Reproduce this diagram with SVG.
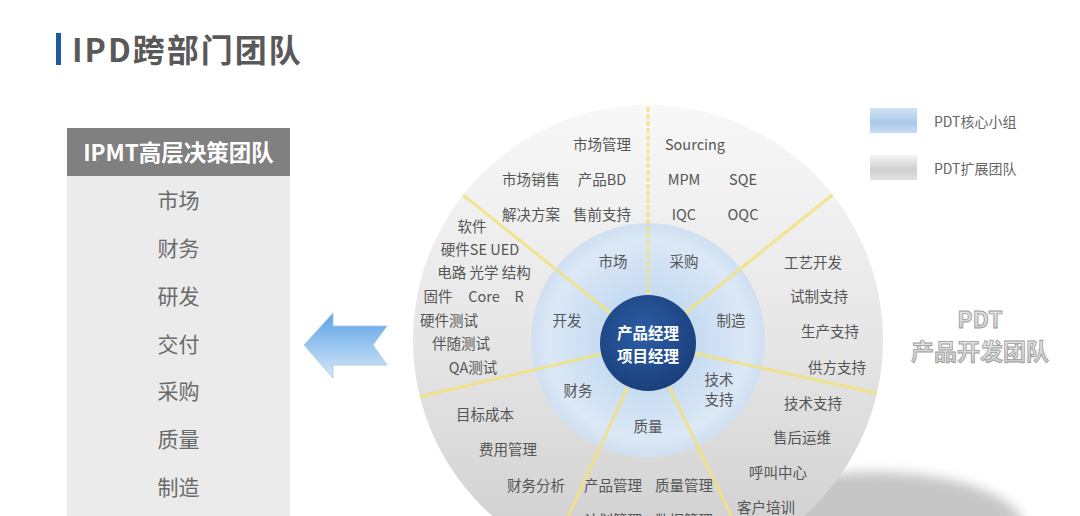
<svg xmlns="http://www.w3.org/2000/svg" width="1080" height="516" viewBox="0 0 1080 516">
<defs>
<style>
text{font-family:"Noto Sans CJK SC","Noto Sans",sans-serif;}
.c{font-size:14.5px;fill:#555;text-anchor:middle;}
.lp{font-size:21px;fill:#6a6a6a;text-anchor:middle;}
.lg{font-size:14px;fill:#666;}
.ray{stroke:#f2e27c;stroke-width:3;opacity:0.85;fill:none;}
.pdt{font-size:23px;font-weight:bold;fill:url(#gPdt);stroke:#9a9a9a;stroke-width:0.8;text-anchor:middle;}
</style>
<linearGradient id="gDisc" x1="0" y1="0" x2="0" y2="1">
<stop offset="0" stop-color="#f8f8f8"/>
<stop offset="0.5" stop-color="#e6e6e6"/>
<stop offset="1" stop-color="#cdcdcd"/>
</linearGradient>
<radialGradient id="gInner" cx="0.5" cy="0.5" r="0.5">
<stop offset="0" stop-color="#b3cfec"/>
<stop offset="0.85" stop-color="#dbe8f6"/>
<stop offset="1" stop-color="#cfe0f2"/>
</radialGradient>
<radialGradient id="gCore" cx="0.45" cy="0.4" r="0.6">
<stop offset="0" stop-color="#2c5fa6"/>
<stop offset="1" stop-color="#1b3f7c"/>
</radialGradient>
<linearGradient id="gArrow" x1="0" y1="0" x2="0" y2="1">
<stop offset="0" stop-color="#5aa3e6"/>
<stop offset="1" stop-color="#d6e8f8"/>
</linearGradient>
<linearGradient id="gLeg1" x1="0" y1="0" x2="0" y2="1">
<stop offset="0" stop-color="#d3e3f4"/>
<stop offset="0.6" stop-color="#a9c9ec"/>
<stop offset="1" stop-color="#c9dcf1"/>
</linearGradient>
<linearGradient id="gLeg2" x1="0" y1="0" x2="0" y2="1">
<stop offset="0" stop-color="#f4f4f4"/>
<stop offset="0.6" stop-color="#cfcfcf"/>
<stop offset="1" stop-color="#e2e2e2"/>
</linearGradient>
<linearGradient id="gPdt" x1="0" y1="0" x2="0" y2="1">
<stop offset="0" stop-color="#f2f2f2"/>
<stop offset="1" stop-color="#c4c4c4"/>
</linearGradient>
<clipPath id="discClip"><circle cx="648" cy="340" r="235"/></clipPath>
<filter id="blur" x="-30%" y="-30%" width="160%" height="160%"><feGaussianBlur stdDeviation="6"/></filter>
</defs>
<rect width="1080" height="516" fill="#ffffff"/>

<g id="title">
<rect x="56" y="33" width="5" height="32" fill="#1f5c9e"/>
<text x="72" y="62" font-size="32" font-weight="bold" fill="#595959" letter-spacing="2">IPD跨部门团队</text>
</g>

<g id="ipmt">
<rect x="67" y="128" width="223" height="48" fill="#808080"/>
<rect x="67" y="176" width="223" height="340" fill="#ebebeb"/>
<text x="178.5" y="161" font-size="22.5" font-weight="bold" fill="#ffffff" text-anchor="middle">IPMT高层决策团队</text>
<text class="lp" x="178.5" y="208">市场</text>
<text class="lp" x="178.5" y="256">财务</text>
<text class="lp" x="178.5" y="304">研发</text>
<text class="lp" x="178.5" y="352">交付</text>
<text class="lp" x="178.5" y="399">采购</text>
<text class="lp" x="178.5" y="447">质量</text>
<text class="lp" x="178.5" y="495">制造</text>
</g>

<g id="connectors">
<path d="M304,345 L333,313 L333,326 L387,326 L373,345 L387,365 L333,365 L333,378 Z" fill="url(#gArrow)" stroke="#a9c4de" stroke-width="0.8"/>
</g>

<g id="legend">
<rect x="870" y="108" width="47" height="25" fill="url(#gLeg1)"/>
<text class="lg" x="934" y="127">PDT核心小组</text>
<rect x="870" y="155" width="47" height="25" fill="url(#gLeg2)"/>
<text class="lg" x="934" y="174">PDT扩展团队</text>
</g>

<g id="pdt-label">
<text class="pdt" x="980" y="328">PDT</text>
<text class="pdt" x="980" y="360">产品开发团队</text>
</g>

<g id="pdt-disc">
<ellipse cx="875" cy="530" rx="150" ry="58" fill="#c6c6c6" filter="url(#blur)"/>
<circle cx="648" cy="340" r="235" fill="url(#gDisc)"/>
<circle cx="648" cy="340" r="117" fill="url(#gInner)"/>
<g clip-path="url(#discClip)">
<line class="ray" x1="648" y1="343" x2="648" y2="100" stroke-dasharray="5 2"/>
<line class="ray" x1="648" y1="343" x2="458" y2="191"/>
<line class="ray" x1="648" y1="343" x2="836" y2="192"/>
<line class="ray" x1="648" y1="343" x2="415" y2="398"/>
<line class="ray" x1="648" y1="343" x2="880" y2="394"/>
<line class="ray" x1="648" y1="343" x2="548" y2="560"/>
<line class="ray" x1="648" y1="343" x2="752" y2="559"/>
</g>
</g>

<g id="core">
<circle cx="648" cy="343" r="48" fill="url(#gCore)"/>
<text x="648" y="339" font-size="15.5" font-weight="bold" fill="#ffffff" text-anchor="middle">产品经理</text>
<text x="648" y="362" font-size="15.5" font-weight="bold" fill="#ffffff" text-anchor="middle">项目经理</text>
</g>

<g id="core-team">
<text class="c" x="613" y="267">市场</text>
<text class="c" x="684" y="267">采购</text>
<text class="c" x="567" y="326">开发</text>
<text class="c" x="731" y="326">制造</text>
<text class="c" x="578" y="396">财务</text>
<text class="c" x="719" y="385">技术</text>
<text class="c" x="719" y="405">支持</text>
<text class="c" x="648" y="432">质量</text>
</g>

<g id="extended-team">
<text class="c" x="602" y="150">市场管理</text>
<text class="c" x="695" y="150">Sourcing</text>
<text class="c" x="531" y="185">市场销售</text>
<text class="c" x="602" y="185">产品BD</text>
<text class="c" x="684" y="185">MPM</text>
<text class="c" x="743" y="185">SQE</text>
<text class="c" x="531" y="220">解决方案</text>
<text class="c" x="602" y="220">售前支持</text>
<text class="c" x="684" y="220">IQC</text>
<text class="c" x="743" y="220">OQC</text>
<text class="c" x="472" y="232">软件</text>
<text class="c" x="480" y="255">硬件SE  UED</text>
<text class="c" x="484" y="278">电路 光学 结构</text>
<text class="c" x="438" y="302">固件</text>
<text class="c" x="484" y="302">Core</text>
<text class="c" x="519" y="302">R</text>
<text class="c" x="449" y="326">硬件测试</text>
<text class="c" x="461" y="349">伴随测试</text>
<text class="c" x="473" y="373">QA测试</text>
<text class="c" x="485" y="420">目标成本</text>
<text class="c" x="508" y="455">费用管理</text>
<text class="c" x="536" y="491">财务分析</text>
<text class="c" x="613" y="491">产品管理</text>
<text class="c" x="684" y="491">质量管理</text>
<text class="c" x="613" y="526">计划管理</text>
<text class="c" x="684" y="526">数据管理</text>
<text class="c" x="813" y="268">工艺开发</text>
<text class="c" x="819" y="302">试制支持</text>
<text class="c" x="830" y="337">生产支持</text>
<text class="c" x="837" y="373">供方支持</text>
<text class="c" x="813" y="409">技术支持</text>
<text class="c" x="802" y="443">售后运维</text>
<text class="c" x="778" y="478">呼叫中心</text>
<text class="c" x="766" y="513">客户培训</text>
</g>
</svg>
